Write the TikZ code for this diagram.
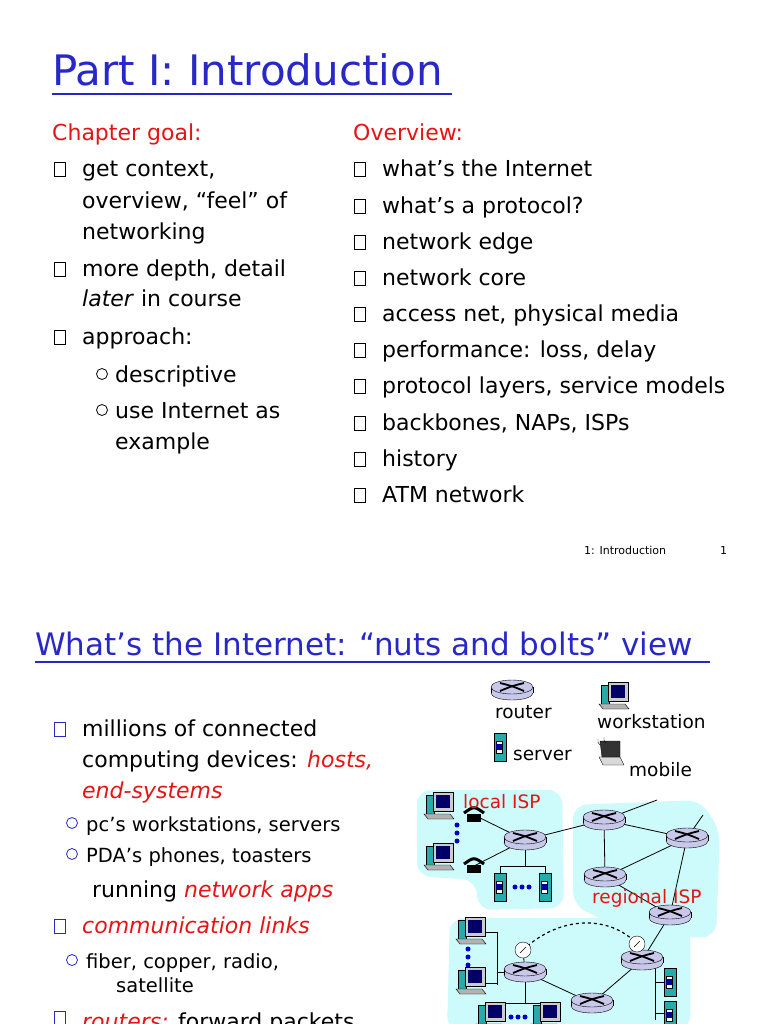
\documentclass[tikz,border=0pt]{standalone}
\usepackage{fontspec}
\setmainfont{DejaVu Sans}
\definecolor{ttl}{RGB}{40,40,200}
\definecolor{rd}{RGB}{230,20,20}
\definecolor{regc}{RGB}{205,250,250}
\definecolor{rtr}{RGB}{200,200,235}
\definecolor{tl}{RGB}{40,170,170}
\newcommand{\fb}{\fontsize{22}{24}\selectfont}
\newcommand{\fs}{\fontsize{19.5}{22}\selectfont}
\newcommand{\fl}{\fontsize{18.5}{22}\selectfont}
\tikzset{
 txt/.style={anchor=west,inner sep=0pt,font=\fb,text height=16pt,text depth=5pt},
 stxt/.style={anchor=west,inner sep=0pt,font=\fs,text height=14pt,text depth=4pt},
 sq/.style={draw,thick,minimum width=11pt,minimum height=14pt,inner sep=0pt},
 sqb/.style={draw=ttl,thick,minimum width=11pt,minimum height=14pt,inner sep=0pt},
 circ/.style={draw,thick,circle,minimum size=11pt,inner sep=0pt},
 lnk/.style={line width=0.8pt},
 router/.pic={
  \draw[fill=rtr] (0,3) ellipse[x radius=21,y radius=7];
  \fill[rtr] (-21,-3) rectangle (21,3);
  \draw (-21,-3) -- (-21,3) (21,-3) -- (21,3);
  \draw[fill=rtr] (0,-3) ellipse[x radius=21,y radius=7];
  \draw[line width=1.8pt] (-12,-7) .. controls (0,-4) .. (12,1);
  \draw[line width=1.8pt] (-12,1) .. controls (0,-4) .. (12,-7);
 },
 wstation/.pic={
  \draw[fill=tl] (-14,-12) rectangle (-6,8);
  \draw[fill=gray!40] (-7,-15) rectangle (13,4);
  \fill[blue!40!black] (-4,-12) rectangle (10,1);
  \draw[fill=gray!60] (-16,7) -- (10,7) -- (14,12) -- (-12,12) -- cycle;
 },
 server/.pic={
  \draw[fill=tl] (-6,-14) rectangle (6,14);
  \draw[fill=white] (-4,-6) rectangle (2,6);
  \fill[blue!60!black] (-4,-3) rectangle (2,3);
 },
 phone/.pic={
  \fill (-7,-1) rectangle (7,7);
  \draw[line width=3pt] (-10,-2) .. controls (0,-9) .. (10,-2);
 },
 laptop/.pic={
  \draw[fill=gray!30] (-13,0) -- (8,0) -- (12,8) -- (-9,8) -- cycle;
  \draw[fill=black!80] (-10,0) -- (-12,-16) -- (8,-16) -- (8,0) -- cycle;
  \draw (-14,-18) arc[start angle=200,end angle=120,radius=5];
  \draw (-8,-20) arc[start angle=200,end angle=120,radius=5];
 },
 dish/.pic={
  \draw[fill=white] (0,0) circle (8);
  \draw (-3,3) -- (3,-3);
 },
 dots/.pic={\fill[blue!80!black] (0,-8) circle (2.5) (0,0) circle (2.5) (0,8) circle (2.5);},
 hdots/.pic={\fill[blue!80!black] (-7,0) circle (2.5) (0,0) circle (2.5) (7,0) circle (2.5);},
}
\begin{document}
\begin{tikzpicture}[x=1pt,y=-1pt]
\useasboundingbox[fill=white] (0,0) rectangle (768,1024);
% ---------- slide 1
\node[anchor=base west,inner sep=0pt,text=ttl,font=\fontsize{42}{46}\selectfont] (t1) at (52,86) {Part I: Introduction};
\draw[ttl,line width=1.3pt] (52,94) -- (452,94);
\node[txt,text=rd] (cg) at (52,135) {Chapter goal:};
\foreach \i/\y in {1/169,2/269,3/337} \node[sq] (lb\i) at (60,\y) {};
\node[txt] (l1) at (82,171) {get context,};
\node[txt] (l2) at (82,203) {overview, “feel” of};
\node[txt] (l3) at (82,234) {networking};
\node[txt] (l4) at (82,271) {more depth, detail};
\node[txt] (l5) at (82,301) {\textit{later} in course};
\node[txt] (l6) at (82,339) {approach:};
\node[circ] (lc1) at (102,374) {};
\node[circ] (lc2) at (102,410) {};
\node[txt] (l7) at (115,377) {descriptive};
\node[txt] (l8) at (115,413) {use Internet as};
\node[txt] (l9) at (115,444) {example};
\node[txt,text=rd] (ov) at (353,135) {Overview:};
\foreach \i/\y/\t in {1/171/{what’s the Internet},2/208/{what’s a protocol?},3/244/{network edge},4/280/{network core},5/316/{access net, physical media},6/352/{performance: loss, delay},7/388/{protocol layers, service models},8/425/{backbones, NAPs, ISPs},9/461/{history},10/497/{ATM network}}{
 \node[sq] (ob\i) at (360,\y-2) {};
 \node[txt] (ot\i) at (382,\y) {\t};
}
\node[anchor=west,inner sep=0pt,font=\fontsize{11}{13}\selectfont\rmfamily] (f1) at (584,550) {1: Introduction};
\node[anchor=west,inner sep=0pt,font=\fontsize{11}{13}\selectfont\rmfamily] (f2) at (720,550) {1};
% ---------- slide 2
\node[anchor=base west,inner sep=0pt,text=ttl,font=\fontsize{31}{34}\selectfont] (t2) at (35,655) {What’s the Internet: “nuts and bolts” view};
\draw[ttl,line width=1.3pt] (35,662) -- (710,662);
\foreach \i/\y in {1/729,2/926,3/1018} \node[sqb] (rb\i) at (60,\y) {};
\node[txt] (m1) at (82,731) {millions of connected};
\node[txt] (m2) at (82,762) {computing devices: \textcolor{rd}{\textit{hosts,}}};
\node[txt,text=rd] (m3) at (82,793) {\textit{end-systems}};
\node[circ,draw=ttl] (mc1) at (72,823) {};
\node[circ,draw=ttl] (mc2) at (72,854) {};
\node[stxt] (m4) at (86,826) {pc’s workstations, servers};
\node[stxt] (m5) at (86,857) {PDA’s phones, toasters};
\node[txt] (m6) at (92,892) {running \textcolor{rd}{\textit{network apps}}};
\node[txt,text=rd] (m7) at (82,928) {\textit{communication links}};
\node[circ,draw=ttl] (mc3) at (72,960) {};
\node[stxt] (m8) at (86,963) {fiber, copper, radio,};
\node[stxt] (m9) at (116,987) {satellite};
\node[txt] (m10) at (82,1024) {\textcolor{rd}{\textit{routers:}} forward packets};
% ---------- network diagram
\fill[regc,rounded corners=14pt] (417,790) -- (562,790) -- (564,908) -- (478,910) -- (476,880) -- (417,876) -- cycle;
\fill[regc,rounded corners=14pt] (573,805) -- (700,800) -- (720,830) -- (716,937) -- (640,938) -- (573,905) -- cycle;
\fill[regc,rounded corners=14pt] (450,918) -- (620,918) -- (690,925) -- (690,1030) -- (447,1030) -- cycle;
\coordinate (L1) at (525,840);
\coordinate (R1) at (604,820);
\coordinate (R2) at (687,838);
\coordinate (R3) at (605,877);
\coordinate (R4) at (670,915);
\coordinate (B1) at (525,972);
\coordinate (B2) at (642,960);
\coordinate (B3) at (592,1003);
\coordinate (P1) at (474,815);
\coordinate (P2) at (474,866);
\coordinate (U1) at (657,800);
\coordinate (U2) at (703,815);
\coordinate (D1) at (523,950);
\coordinate (D2) at (637,944);
\draw[lnk] (P1) -- (L1); \draw[lnk] (P2) -- (L1);
\draw[lnk] (L1) -- (R1); \draw[lnk] (R1) -- (R2); \draw[lnk] (R1) -- (R3);
\draw[lnk] (R3) -- (R2); \draw[lnk] (R1) -- (U1); \draw[lnk] (R2) -- (U2);
\draw[lnk] (R2) -- (R4); \draw[lnk] (R3) -- (R4); \draw[lnk] (R4) -- (B2);
\draw[lnk] (B2) -- (B3); \draw[lnk] (B1) -- (B3);
\draw[lnk] (L1) -- (525,866) (500,866) -- (545,866) (500,866) -- (500,875) (545,866) -- (545,875);
\draw[lnk] (B1) -- (497,972) (497,932) -- (497,985) (485,932) -- (497,932) (485,983) -- (497,983);
\draw[lnk] (B1) -- (525,1003) (495,1003) -- (547,1003);
\draw[lnk] (B2) -- (655,960) (655,960) -- (655,1020) (655,982) -- (665,982) (655,1013) -- (665,1013);
\draw[lnk] (D1) -- (B1); \draw[lnk] (D2) -- (B2);
\draw[lnk,dashed,line width=1.2pt] (D1) .. controls (560,915) and (610,915) .. (D2);
\foreach \c in {L1,R1,R2,R3,R4,B1,B2,B3} \pic at (\c) {router};
\pic at (D1) {dish}; \pic at (D2) {dish};
\pic at (440,807) {wstation}; \pic at (440,858) {wstation};
\pic at (P1) {phone}; \pic at (P2) {phone};
\pic at (457,833) {dots};
\pic at (500,887) {server}; \pic at (545,887) {server}; \pic at (522,887) {hdots};
\pic at (472,932) {wstation}; \pic at (472,982) {wstation}; \pic at (468,957) {dots};
\pic at (492,1017) {wstation}; \pic at (547,1017) {wstation}; \pic at (518,1017) {hdots};
\pic at (670,982) {server}; \pic at (670,1015) {server};
\node[anchor=west,inner sep=0pt,text=rd,font=\fl] (lisp) at (463,802) {local ISP};
\node[anchor=west,inner sep=0pt,text=rd,font=\fl] (risp) at (592,898) {regional ISP};
% legend
\pic at (512,690) {router};
\node[anchor=west,inner sep=0pt,font=\fl] (lg1) at (495,712) {router};
\pic at (615,697) {wstation};
\node[anchor=west,inner sep=0pt,font=\fl] (lg2) at (597,722) {workstation};
\pic at (500,747) {server};
\node[anchor=west,inner sep=0pt,font=\fl] (lg3) at (513,755) {server};
\pic at (612,757) {laptop};
\node[anchor=west,inner sep=0pt,font=\fl] (lg4) at (629,770) {mobile};
\end{tikzpicture}
\end{document}
